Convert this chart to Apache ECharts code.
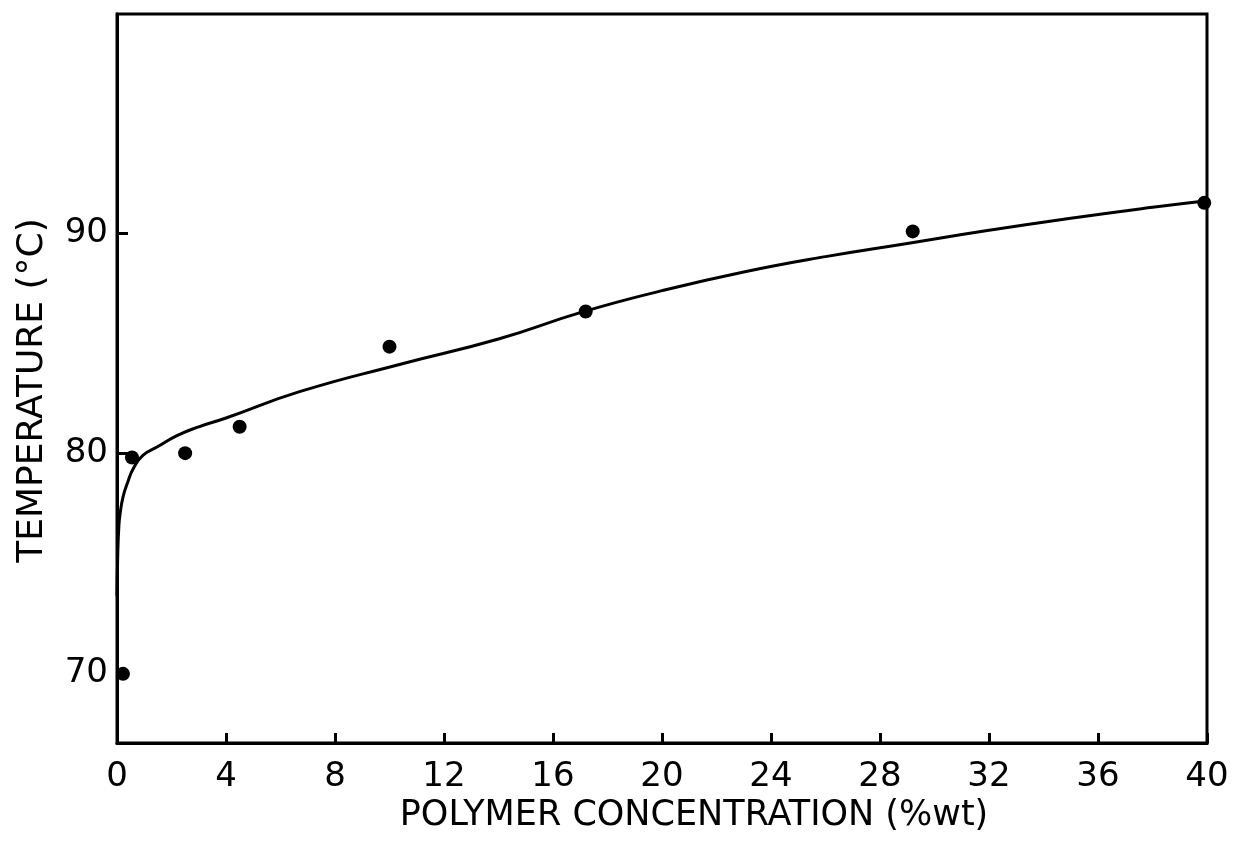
<!DOCTYPE html>
<html>
<head>
<meta charset="utf-8">
<script src="https://cdn.jsdelivr.net/npm/echarts@6/dist/echarts.min.js"></script>
<style>
    html, body { margin: 0; padding: 0; background: #fff; }
    #chart { width: 1237px; height: 841px; }
</style>
</head>
<body>
<div id="chart"></div>
<script>
    // measured points (polymer concentration %wt, temperature °C)
    var pointX = [0.22, 0.55, 2.5, 4.5, 10.0, 17.2, 29.2, 39.9];
    var pointY = [69.95, 79.8, 80.0, 81.2, 84.85, 86.45, 90.1, 91.4];

    // fitted curve
    var curveX = [0, 0.03, 0.07, 0.11, 0.22, 0.4, 0.6, 0.95, 1.5, 2.2, 3.0, 4.0, 6.7, 10.4, 14.0, 17.0, 20.0, 23.0, 26.0, 29.0, 32.0, 35.0, 38.0, 40.0];
    var curveY = [73.5, 75.5, 76.7, 77.2, 78.0, 78.7, 79.3, 79.9, 80.3, 80.8, 81.2, 81.6, 82.8, 84.05, 85.2, 86.4, 87.4, 88.25, 88.95, 89.55, 90.15, 90.7, 91.2, 91.5];

    var yTicks = [70, 80, 90];

    var font = 'DejaVu Sans';

    var chart = echarts.init(document.getElementById('chart'));

    chart.setOption({
        animation: false,
        backgroundColor: '#fff',
        grid: {
            left: 117,
            right: 30,
            top: 14,
            bottom: 98,
            show: true,
            borderColor: '#000',
            borderWidth: 3
        },
        xAxis: {
            type: 'value',
            min: 0,
            max: 40,
            interval: 4,
            name: 'POLYMER CONCENTRATION (%wt)',
            nameLocation: 'middle',
            nameGap: 54,
            nameTextStyle: {
                fontFamily: font,
                fontSize: 35,
                color: '#000',
                padding: [0, 0, 0, 64]
            },
            axisLine: {lineStyle: {color: '#000', width: 3}},
            axisTick: {inside: true, length: 10, lineStyle: {color: '#000', width: 3}},
            axisLabel: {fontFamily: font, fontSize: 34, color: '#000', margin: 17},
            splitLine: {show: false}
        },
        yAxis: {
            type: 'value',
            min: 66.8,
            max: 100,
            name: 'TEMPERATURE (°C)',
            nameLocation: 'middle',
            nameGap: 66,
            nameTextStyle: {
                fontFamily: font,
                fontSize: 36,
                color: '#000',
                padding: [0, 24, 0, 0]
            },
            axisLine: {lineStyle: {color: '#000', width: 3}},
            axisTick: {
                inside: true,
                length: 11,
                customValues: yTicks,
                lineStyle: {color: '#000', width: 3}
            },
            axisLabel: {
                fontFamily: font,
                fontSize: 34,
                color: '#000',
                margin: 9,
                customValues: yTicks
            },
            splitLine: {show: false}
        },
        series: [
            {
                name: 'curve',
                type: 'line',
                data: curveX.map(function (x, i) { return [x, curveY[i]]; }),
                showSymbol: false,
                smooth: 0.5,
                lineStyle: {color: '#000', width: 3},
                z: 2
            },
            {
                name: 'data',
                type: 'scatter',
                data: pointX.map(function (x, i) { return [x, pointY[i]]; }),
                symbol: 'circle',
                symbolSize: 14,
                itemStyle: {color: '#000', opacity: 1},
                z: 3
            }
        ]
    });
</script>
</body>
</html>
